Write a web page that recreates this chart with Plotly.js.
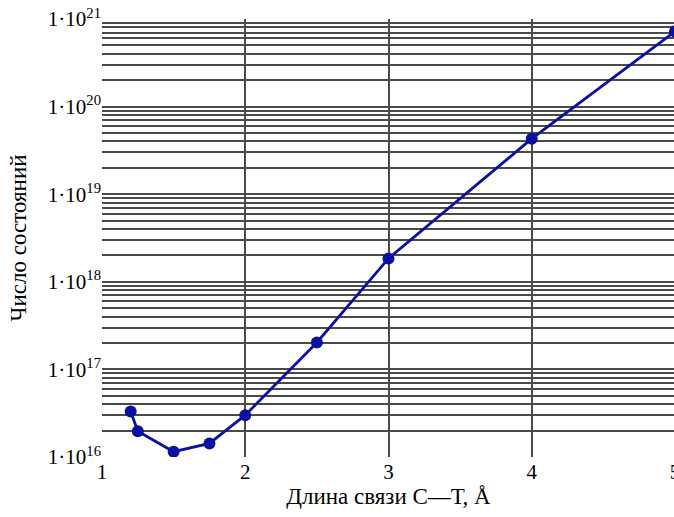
<!DOCTYPE html>
<html>
<head>
<meta charset="utf-8">
<script src="https://cdn.plot.ly/plotly-3.0.1.min.js"></script>
<style>
html, body { margin:0; padding:0; overflow:hidden; background:#fff; }
#chart { width:678px; height:517px; }
</style>
</head>
<body>
<div id="chart"></div>
<script>
// Bond length C—T (Å) and number of states
var bondLength = [1.2, 1.25, 1.5, 1.75, 2.0, 2.5, 3.0, 4.0, 5.0];
var numStates  = [3.3e16, 1.97e16, 1.15e16, 1.43e16, 3.0e16, 2.03e17, 1.85e18, 4.3e19, 7.2e20];

var xTickVals = [1, 2, 3, 4, 5];
var xTickText = ['1', '2', '3', '4', '5'];
var yDecades = [16, 17, 18, 19, 20, 21];
var yMinorMultipliers = [2, 3, 4, 5, 6, 7, 8, 9];

var yTickVals = yDecades.map(function(d){ return Math.pow(10, d); });
var yTickText = yDecades.map(function(d){ return '1·10<sup>' + d + '</sup>'; });
var yMinorVals = [];
yDecades.slice(0, -1).forEach(function(d){
  yMinorMultipliers.forEach(function(m){ yMinorVals.push(m * Math.pow(10, d)); });
});

var gridColor = '#4a4a4a';
var serif = 'Liberation Serif, Times New Roman, serif';

var trace = {
  x: bondLength,
  y: numStates,
  type: 'scatter',
  mode: 'lines+markers',
  line: { color: '#0a10a0', width: 2.8 },
  marker: { color: '#0a10a0', size: 12 },
  cliponaxis: true,
  hoverinfo: 'skip'
};

var layout = {
  width: 678,
  height: 517,
  margin: { l: 102, r: 3, t: 19, b: 60 },
  paper_bgcolor: '#ffffff',
  plot_bgcolor: '#ffffff',
  showlegend: false,
  font: { family: serif, color: '#000000' },
  xaxis: {
    range: [1, 5],
    tickmode: 'array',
    tickvals: xTickVals,
    ticktext: xTickText,
    ticklabeloverflow: 'allow',
    showgrid: true,
    gridcolor: gridColor,
    gridwidth: 2,
    zeroline: false,
    showline: false,
    ticks: '',
    tickfont: { family: serif, size: 21, color: '#000' },
    title: { text: 'Длина связи С—Т, Å', font: { family: serif, size: 23, color: '#000' }, standoff: 4 }
  },
  yaxis: {
    type: 'log',
    range: [16, 21],
    tickmode: 'array',
    tickvals: yTickVals,
    ticktext: yTickText,
    showgrid: true,
    gridcolor: gridColor,
    gridwidth: 2,
    zeroline: false,
    showline: false,
    ticks: '',
    tickfont: { family: serif, size: 21, color: '#000' },
    minor: {
      tickmode: 'array',
      tickvals: yMinorVals,
      showgrid: true,
      gridcolor: gridColor,
      gridwidth: 2,
      ticks: ''
    },
    title: { text: 'Число состояний', font: { family: serif, size: 23, color: '#000' }, standoff: 14 }
  }
};

Plotly.newPlot('chart', [trace], layout, { displayModeBar: false, staticPlot: true });
</script>
</body>
</html>
